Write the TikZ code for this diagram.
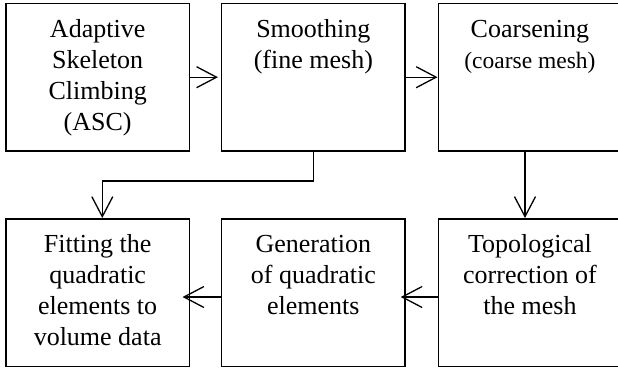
\documentclass[tikz,border=0pt]{standalone}
\usepackage{fontspec}
\setmainfont{Liberation Serif}
\usetikzlibrary{arrows.meta}

% Text block of a stage: centred lines, hanging from the top of the box
\newcommand{\stagetext}[2][147.5pt]{%
  \parbox[c][#1][t]{180pt}{\centering\fontsize{26}{31}\selectfont
    \rule{0pt}{34pt}#2}}

\begin{document}
\begin{tikzpicture}[x=1pt,y=1pt,
  stagebox/.style={draw, line width=1.5pt, inner sep=0pt,
    minimum width=183.3pt, minimum height=147.5pt},
  conn/.style={line width=1.3pt,
    -{Straight Barb[length=20pt,width=21pt,line width=1.3pt]}}]
\useasboundingbox (0,0) rectangle (618,-368);

% upper row
\node[stagebox] (asc)    at (97.65,-77.2)  {\stagetext{Adaptive\\Skeleton\\Climbing\\(ASC)}};
\node[stagebox] (smooth) at (313.35,-77.2) {\stagetext{Smoothing\\(fine mesh)}};
\node[stagebox] (coarse) at (529.95,-77.2) {\stagetext{Coarsening\\\fontsize{23.5}{31}\selectfont(coarse mesh)}};

% lower row
\node[stagebox] (fit)    at (97.65,-292.5)  {\stagetext{Fitting the\\quadratic\\elements to\\volume data}};
\node[stagebox] (gen)    at (313.35,-292.5) {\stagetext{Generation\\of quadratic\\elements}};
\node[stagebox] (topo)   at (529.95,-292.5) {\stagetext{Topological\\correction of\\the mesh}};

% routing points of the vertical connectors
\coordinate (elbow) at (102.3,-181);
\coordinate (drop)  at (525,-185);

% connectors
\draw[conn, shorten >=3pt] (asc.east) -- (smooth.west);
\draw[conn] (smooth.east) -- (coarse.west);
\draw[conn] (smooth.south) |- (elbow) -- (fit.north -| elbow);
\draw[conn] (coarse.south -| drop) -- (topo.north -| drop);
\draw[conn, shorten >=-5pt] ([yshift=-4.5pt]topo.west) -- ([yshift=-4.5pt]gen.east);
\draw[conn, shorten >=-7.5pt] ([yshift=-4.5pt]gen.west) -- ([yshift=-4.5pt]fit.east);
\end{tikzpicture}
\end{document}
